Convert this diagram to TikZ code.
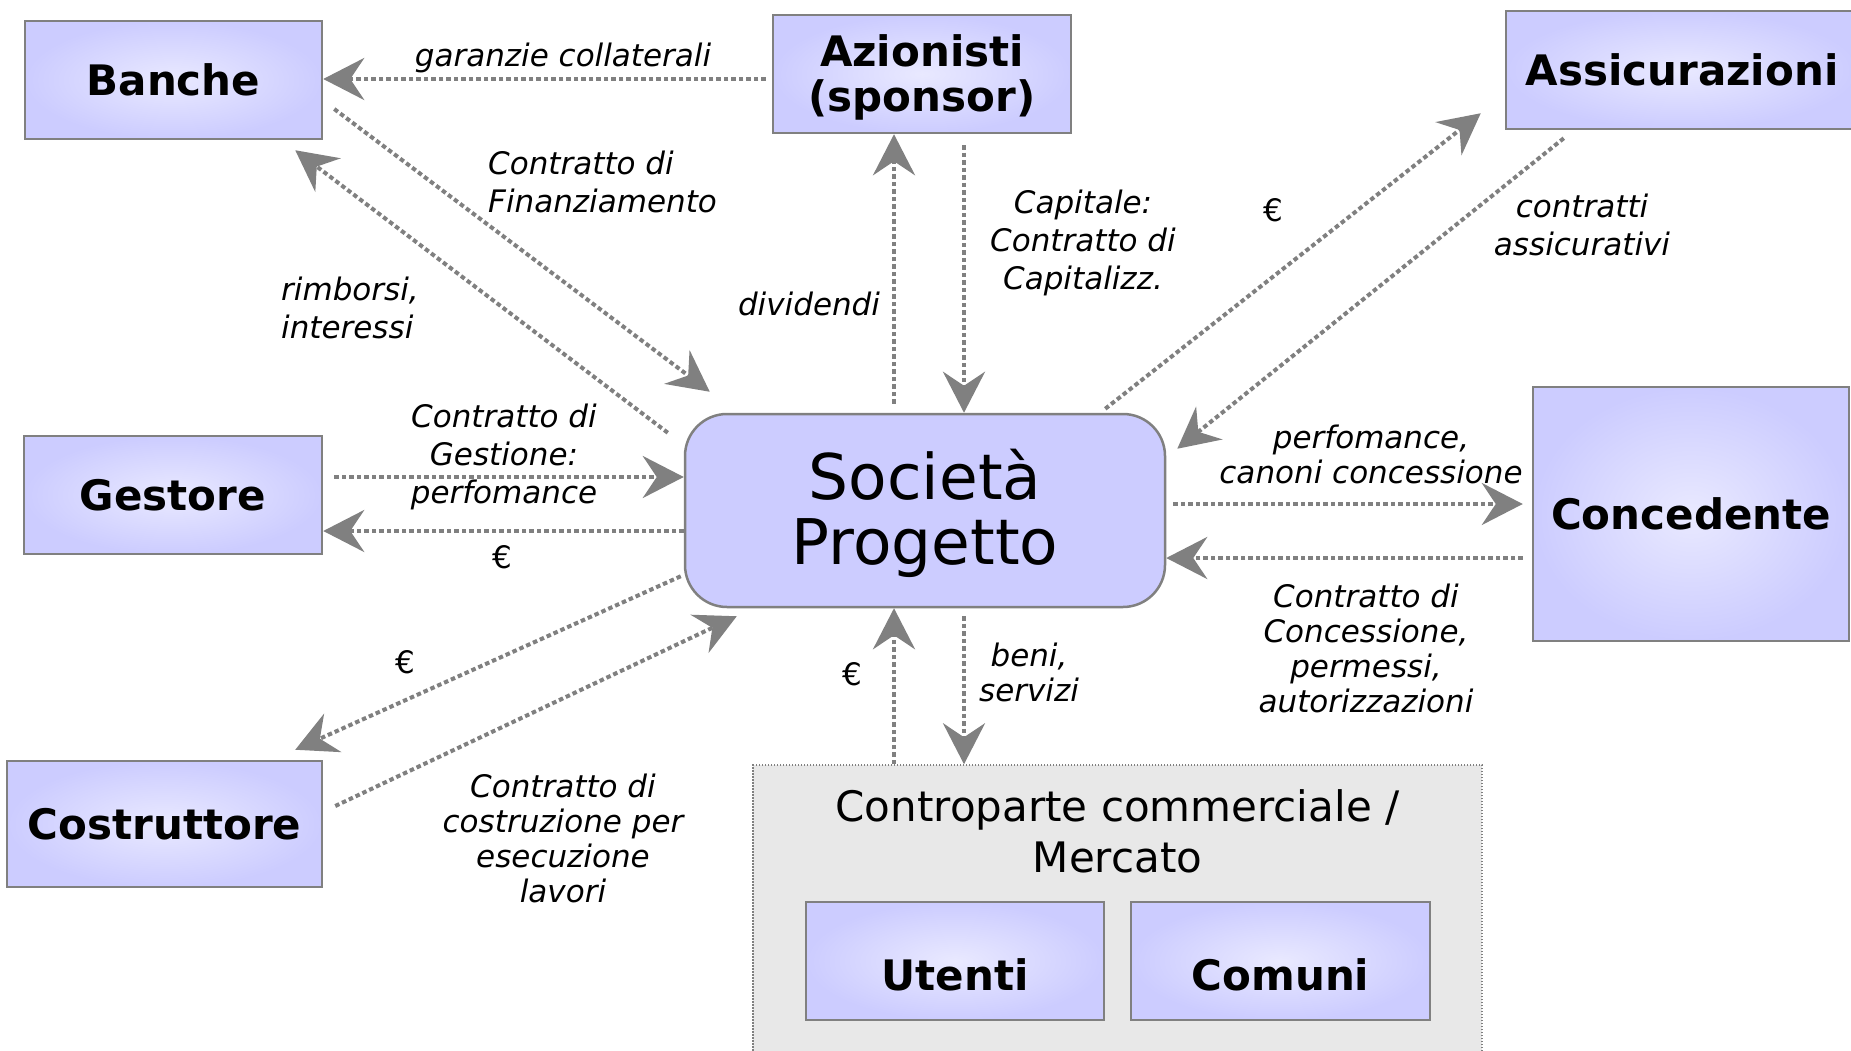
\documentclass[tikz,border=0pt]{standalone}
\usepackage{fontspec}
\setmainfont{DejaVu Sans}
\usetikzlibrary{arrows.meta,calc}
\definecolor{boxfill}{HTML}{CCCCFF}
\definecolor{boxin}{HTML}{E9E9FF}
\definecolor{lgray}{HTML}{808080}
\definecolor{mktfill}{HTML}{E8E8E8}
\tikzset{
  entity/.style={draw=lgray, line width=2.5pt, inner color=boxin, outer color=boxfill,
    inner sep=0pt, font=\fontsize{42}{45}\selectfont\bfseries, align=center},
  flow/.style={draw=lgray, line width=4pt, dash pattern=on 4.5pt off 3pt,
    -{Stealth[length=41pt,width=42pt,inset=14pt,fill=lgray]}},
  lbl/.style={font=\fontsize{31}{38}\selectfont\itshape, align=center, inner sep=0pt},
  lbltight/.style={lbl, font=\fontsize{31}{35}\selectfont\itshape},
  eur/.style={font=\fontsize{31}{36}\selectfont, inner sep=0pt},
}
\begin{document}
\begin{tikzpicture}[x=1pt,y=-1pt]
\useasboundingbox (0,0) rectangle (1851,1051);
\clip (0,0) rectangle (1851,1051);
\fill[white] (0,0) rectangle (1851,1051);

% market box
\node[draw=lgray, line width=1.5pt, dash pattern=on 1.5pt off 1.5pt, fill=mktfill,
      minimum width=729pt, minimum height=295pt, inner sep=0pt,
      label={[font=\fontsize{42}{51}\selectfont, align=center, anchor=north, inner sep=0pt, yshift=-25pt]north:{Controparte commerciale /\\Mercato}}]
      (contr) at (1117.5,912.5) {};
\node[entity, minimum width=298pt, minimum height=118pt,
      label={[font=\fontsize{42}{45}\selectfont\bfseries, yshift=-14pt]center:Utenti}] (utenti) at (955,961) {};
\node[entity, minimum width=299pt, minimum height=118pt,
      label={[font=\fontsize{42}{45}\selectfont\bfseries, yshift=-14pt]center:Comuni}] (comuni) at (1280.5,961) {};

% entities
\node[entity, minimum width=297pt, minimum height=118pt] (banche) at (173.5,80) {Banche};
\node[entity, minimum width=298pt, minimum height=118pt,
      label={[font=\fontsize{42}{45}\selectfont\bfseries, align=center, yshift=-3pt]center:{Azionisti\\(sponsor)}}] (azi) at (922,74) {};
\node[entity, minimum width=352pt, minimum height=118pt] (assic) at (1682,70) {Assicurazioni};
\node[entity, minimum width=298pt, minimum height=118pt] (gest) at (173,495) {Gestore};
\node[entity, minimum width=316pt, minimum height=254pt] (conc) at (1691,514) {Concedente};
\node[entity, minimum width=315pt, minimum height=126pt] (cost) at (164.5,824) {Costruttore};
\node[draw=lgray, line width=2.5pt, fill=boxfill, rounded corners=42pt,
      minimum width=480pt, minimum height=193pt, inner sep=0pt,
      label={[font=\fontsize{63}{65}\selectfont, align=center, yshift=-3pt]center:{Società\\Progetto}}] (soc) at (925,510.5) {};

% connectors
\draw[flow] ($(azi.west)+(-6,5)$) -- ($(banche.east)+(0,-1)$);
\draw[flow] ($(banche.east)+(11,29)$) -- ($(soc.north west)+(26,-21)$);
\draw[flow] ($(soc.north west)+(-16,20)$) -- ($(banche.south east)+(-28,10)$);
\draw[flow] ($(soc.north)+(-31,-9)$) -- ($(azi.south)+(-28,0)$);
\draw[flow] ($(azi.south)+(42,11)$) -- ($(soc.north)+(39,0)$);
\draw[flow] ($(soc.north east)+(-61,-4)$) -- ($(assic.south west)+(-24,-17)$);
\draw[flow] ($(assic.south west)+(59,8)$) -- ($(soc.north east)+(11,36)$);
\draw[flow] ($(gest.east)+(11,-18)$) -- ($(soc.west)+(0,-33.5)$);
\draw[flow] ($(soc.west)+(0,20.5)$) -- ($(gest.east)+(0,36)$);
\draw[flow] ($(soc.east)+(7,-6.5)$) -- ($(conc.west)+(-9,-10)$);
\draw[flow] ($(conc.west)+(-9,44)$) -- ($(soc.east)+(0,47.5)$);
\draw[flow] ($(soc.south west)+(-3,-32)$) -- ($(cost.north east)+(-28,-10)$);
\draw[flow] ($(cost.east)+(12,-18)$) -- ($(soc.south west)+(53,8)$);
\draw[flow] ($(contr.north)+(-223.5,0)$) -- ($(soc.south)+(-31,0)$);
\draw[flow] ($(soc.south)+(39,8)$) -- ($(contr.north)+(-153.5,0)$);

% labels
\node[lbl] (lgar) at (563,58) {garanzie collaterali};
\node[lbl, align=left, anchor=west] (lfin) at (488,182) {Contratto di\\Finanziamento};
\node[lbl, align=left, anchor=west] (lrim) at (281,308) {rimborsi,\\interessi};
\node[lbl] (ldiv) at (809,304) {dividendi};
\node[lbl] (lcap) at (1083,243) {Capitale:\\Contratto di\\Capitalizz.};
\node[eur] (leas) at (1273,210) {€};
\node[lbl] (lass) at (1582,225) {contratti\\assicurativi};
\node[lbl] (lges) at (504,457) {Contratto di\\Gestione:\\perfomance};
\node[eur] (legs) at (502,557) {€};
\node[lbltight] (lper) at (1371,454) {perfomance,\\canoni concessione};
\node[lbltight] (lcon) at (1366,648) {Contratto di\\Concessione,\\permessi,\\autorizzazioni};
\node[eur] (lecs) at (405,662) {€};
\node[lbltight] (lcos) at (563,838) {Contratto di\\costruzione per\\esecuzione\\lavori};
\node[eur] (lemk) at (852,674) {€};
\node[lbltight] (lben) at (1029,672) {beni,\\servizi};
\end{tikzpicture}
\end{document}
